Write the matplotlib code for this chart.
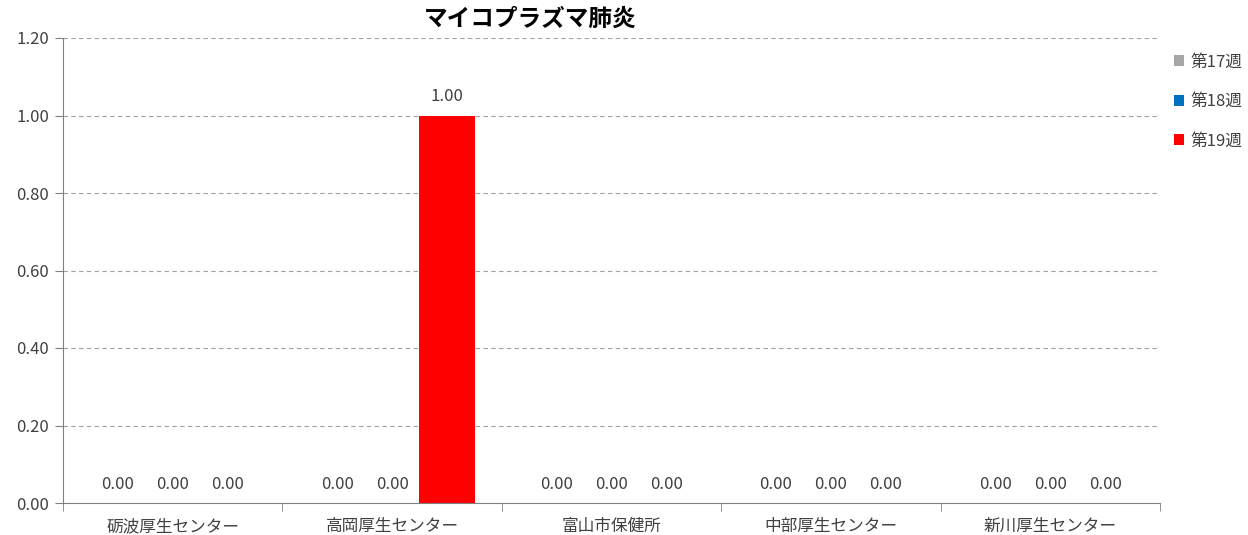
import matplotlib
matplotlib.use("Agg")
import matplotlib.pyplot as plt
import numpy as np

plt.rcParams['font.family'] = ['Noto Sans CJK JP', 'DejaVu Sans']

title = "マイコプラズマ肺炎"
categories = ["砺波厚生センター", "高岡厚生センター", "富山市保健所", "中部厚生センター", "新川厚生センター"]
series_names = ["第17週", "第18週", "第19週"]
week17 = [0.00, 0.00, 0.00, 0.00, 0.00]
week18 = [0.00, 0.00, 0.00, 0.00, 0.00]
week19 = [0.00, 1.00, 0.00, 0.00, 0.00]
colors = ["#a6a6a6", "#0070c0", "#ff0000"]
yticks = [0.0, 0.2, 0.4, 0.6, 0.8, 1.0, 1.2]

FS = 12
fig = plt.figure(figsize=(12.48, 5.35), dpi=100)
ax = fig.add_axes([63/1248, 1-503/535, (1160-63)/1248, (503-38)/535])

x = np.arange(len(categories))
w = 0.255
data = [week17, week18, week19]
for i, (vals, name, c) in enumerate(zip(data, series_names, colors)):
    bars = ax.bar(x + (i-1)*0.25, vals, width=w, color=c, label=name)
    for b, v in zip(bars, vals):
        ax.annotate(f"{v:.2f}", (b.get_x()+b.get_width()/2, v), xytext=(0, 13.5),
                    textcoords='offset points', ha='center', va='center',
                    fontsize=FS, color='#404040')

ax.set_xlim(-0.5, len(categories)-0.5)
ax.set_ylim(0, 1.2)
ax.set_yticks(yticks)
ax.set_yticklabels([f"{t:.2f}" for t in yticks], fontsize=FS, color='#404040')
ax.yaxis.grid(True, linestyle=(0, (4, 3)), color='#a0a0a0', linewidth=0.8)
ax.set_axisbelow(True)
ax.set_xticks(x)
ax.set_xticklabels(categories, fontsize=FS, color='#404040')
ax.tick_params(axis='x', length=0, pad=11)
ax.set_xticks(np.arange(-0.5, len(categories)), minor=True)
ax.tick_params(axis='x', which='minor', length=6, color='#808080')
ax.tick_params(axis='y', length=6, color='#808080', pad=4)
for s in ['top', 'right']:
    ax.spines[s].set_visible(False)
for s in ['left', 'bottom']:
    ax.spines[s].set_color('#808080')

fig.text(530/1248, 1-18.5/535, title, ha='center', va='center', fontsize=17, fontweight='bold', color='#000000')

handles, labels = ax.get_legend_handles_labels()
leg = fig.legend(handles, labels, loc='upper left', bbox_to_anchor=(1167/1248, 1-47/535),
                 frameon=False, fontsize=FS, handlelength=0.6, handleheight=0.6,
                 handletextpad=0.4, labelspacing=1.35, borderaxespad=0)
for t in leg.get_texts():
    t.set_color('#404040')

fig.savefig("out.png", dpi=100)
